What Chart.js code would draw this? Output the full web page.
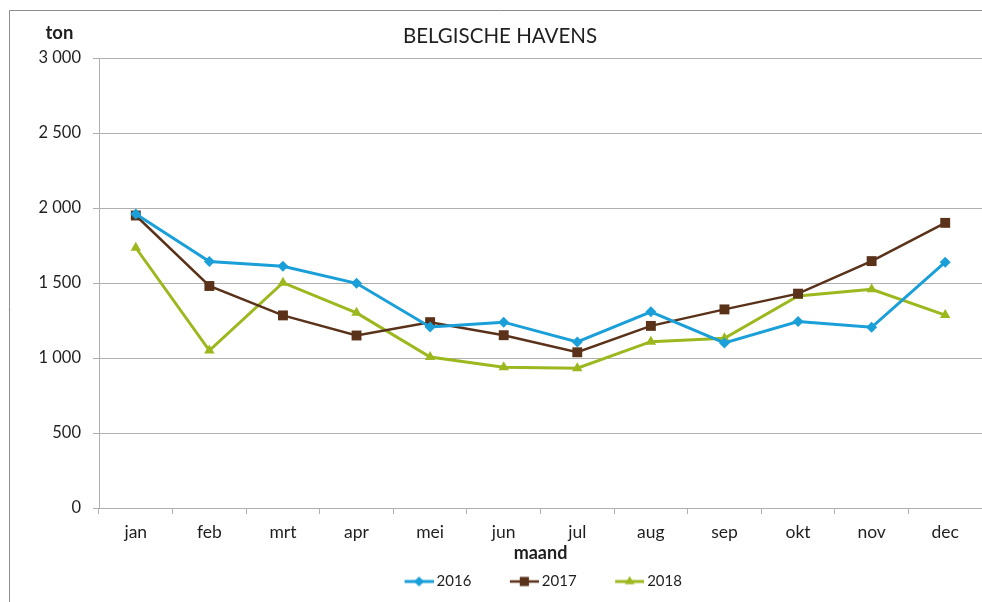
<!DOCTYPE html>
<html><head><meta charset="utf-8">
<script src="https://cdn.jsdelivr.net/npm/chart.js@4"></script>
<style>html,body{margin:0;padding:0;background:#fff;overflow:hidden;}#wrap{width:982px;height:602px;overflow:hidden;}</style>
</head><body><div id="wrap"><canvas id="c" width="989" height="602"></canvas></div>
<script>
const months = ['jan','feb','mrt','apr','mei','jun','jul','aug','sep','okt','nov','dec'];
const s2016 = [1960,1643,1612,1498,1207,1239,1107,1308,1100,1243,1205,1639];
const s2017 = [1950,1480,1284,1150,1239,1152,1038,1214,1324,1429,1646,1901];
const s2018 = [1735,1050,1502,1301,1006,939,932,1109,1131,1413,1458,1286];
const yTicks = [0,500,1000,1500,2000,2500,3000];
const seriesNames = ['2016','2017','2018'];
const chartTitle = 'BELGISCHE HAVENS';
const yTitle = 'ton';
const xTitle = 'maand';

const colors = ['#1a9fd8','#5a3219','#9cb81f'];
const styles = ['rectRot','rect','triangle'];
const radii = [5.5,7,6];
const widths = [3,2.5,3];
const FONT = 'Lato';
const TXT = '#1f1f1f';
const LEGFONT = 15;

function fmt(v){ return String(v).replace(/\B(?=(\d{3})+(?!\d))/g,' '); }

const W = 53, IW = W + LEGFONT - 6, IH = 16;
function legendImg(i){
  const c = document.createElement('canvas');
  c.width = IW; c.height = IH;
  const x = c.getContext('2d');
  x.strokeStyle = colors[i]; x.lineWidth = widths[i];
  x.beginPath(); x.moveTo(IW-29, IH/2); x.lineTo(IW, IH/2); x.stroke();
  x.fillStyle = colors[i];
  Chart.helpers.drawPoint(x, {pointStyle: styles[i], radius: radii[i]-0.5, borderWidth: 0}, IW-14.5, IH/2);
  return c;
}

const decor = {
  id:'decor',
  afterLayout(chart){
    if (chart.legend) { chart.legend.left -= 11.5; chart.legend.right -= 11.5; }
  },
  beforeDraw(chart){
    const ctx = chart.ctx;
    ctx.save();
    ctx.strokeStyle = '#8c8c8c'; ctx.lineWidth = 1;
    ctx.beginPath();
    ctx.moveTo(9.5, 700); ctx.lineTo(9.5, 10.5); ctx.lineTo(1000, 10.5);
    ctx.stroke();
    ctx.restore();
  },
  afterDraw(chart){
    const ctx = chart.ctx;
    ctx.save();
    ctx.fillStyle = TXT;
    ctx.textAlign = 'center'; ctx.textBaseline = 'middle';
    ctx.font = '20.5px ' + FONT;
    ctx.fillText(chartTitle, 500, 36.5);
    ctx.font = 'bold 18.5px ' + FONT;
    ctx.fillText(yTitle, 59.5, 33);
    ctx.restore();
  }
};

const mk = (i, data) => ({
  label: seriesNames[i], data,
  borderColor: colors[i], backgroundColor: colors[i],
  borderWidth: widths[i], pointStyle: styles[i], pointRadius: radii[i],
  pointBorderWidth: 0, pointBackgroundColor: colors[i], tension: 0
});

new Chart(document.getElementById('c'), {
  type: 'line',
  data: { labels: months, datasets: [mk(0,s2016), mk(1,s2017), mk(2,s2018)] },
  options: {
    responsive:false, animation:false, devicePixelRatio:1,
    layout:{ padding:{ top:58, right:1, bottom:3, left:0 } },
    plugins:{
      tooltip:{enabled:false},
      legend:{
        position:'bottom', fullSize:false,
        labels:{
          usePointStyle:true, pointStyleWidth:W, padding:10,
          color:TXT, font:{family:FONT, size:LEGFONT},
          generateLabels(chart){
            const items = Chart.defaults.plugins.legend.labels.generateLabels(chart);
            items.forEach((it,i)=>{ it.pointStyle = legendImg(i); });
            return items;
          }
        }
      }
    },
    scales:{
      x:{
        offset:true,
        grid:{ offset:true, drawOnChartArea:false, drawTicks:true, tickLength:6, color:'#b0b0b0' },
        border:{ color:'#b0b0b0' },
        ticks:{ color:TXT, font:{family:FONT, size:17.5}, padding:8, maxRotation:0 },
        title:{ display:true, text:xTitle, color:TXT, font:{family:FONT, size:18, weight:'bold'}, padding:{top:0,bottom:0} },
        afterFit(s){ s.height = 56; }
      },
      y:{
        min:0, max:3000,
        afterBuildTicks(s){ s.ticks = yTicks.map(v=>({value:v})); },
        grid:{ color:'#b0b0b0', tickLength:6 },
        border:{ color:'#b0b0b0' },
        ticks:{ color:TXT, font:{family:FONT, size:16.5}, padding:12, callback:(v)=>fmt(v) },
        afterFit(s){ s.width = 99; }
      }
    }
  },
  plugins:[decor]
});
</script></body></html>
